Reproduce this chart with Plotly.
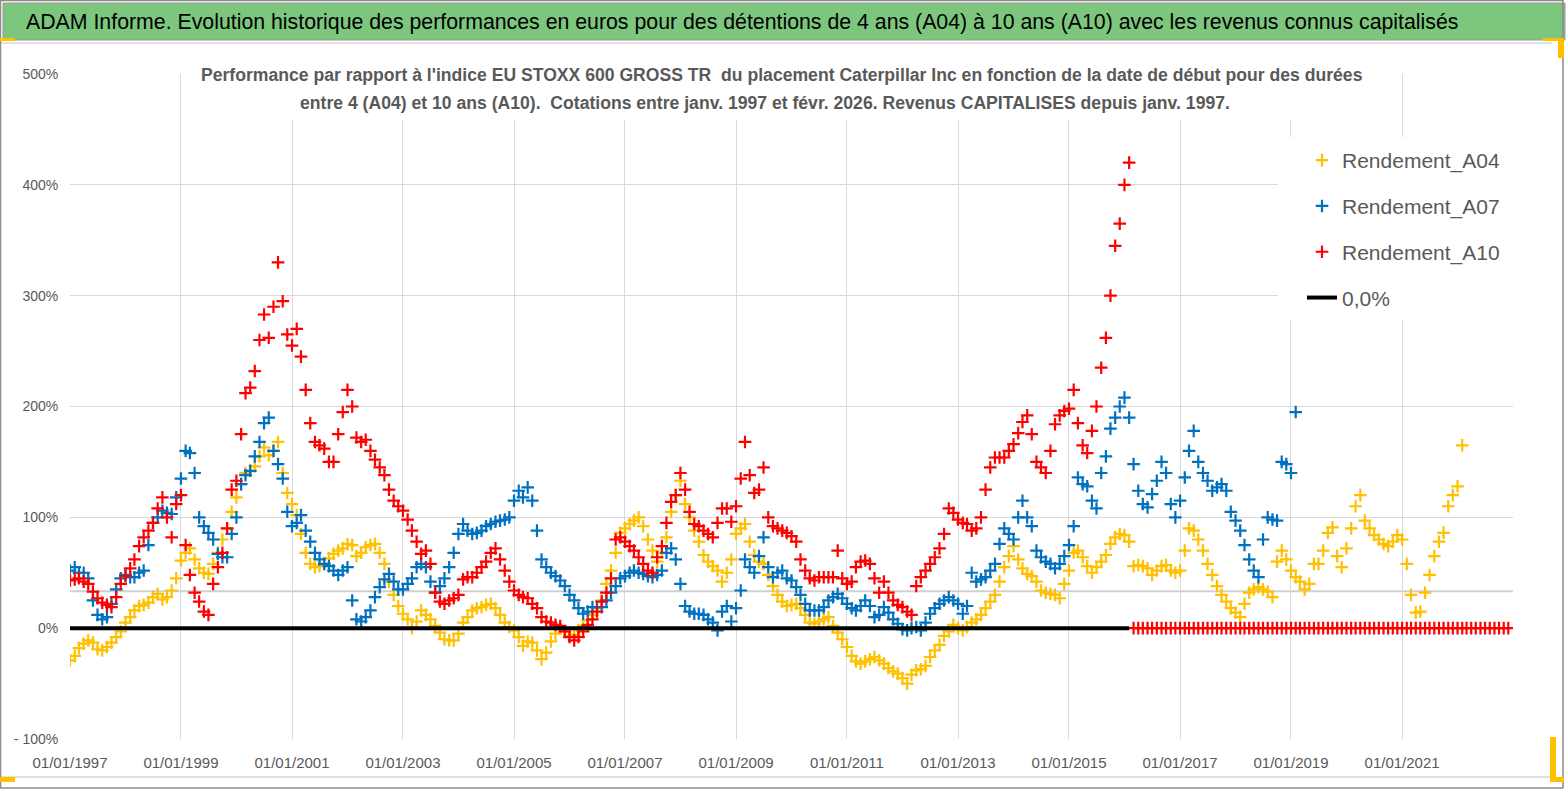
import plotly.graph_objects as go
import pandas as pd

# monthly start dates (performance vs EU STOXX 600 GROSS TR, in %)
START = "1997-01-01"

A04 = [
    -29, -25, -18, -14, -11, -13, -19, -20, -17, -13, -8, -3,      # 1997
    5, 10, 16, 20, 21, 23, 28, 31, 26, 28, 34, 45,                  # 1998
    61, 68, 72, 62, 54, 50, 49, 58, 68, 80, 90, 105,                # 1999
    118, 130, 140, 142, 146, 155, 163, 156, 160, 168, 140, 122,     # 2000
    112, 102, 85, 68, 58, 55, 56, 58, 63, 67, 70, 72,               # 2001
    76, 75, 65, 68, 73, 75, 76, 68, 58, 42, 30, 20,                 # 2002
    13, 8, 0, 6, 16, 12, 8, 2, -4, -10, -11, -11,                   # 2003
    -5, 5, 10, 16, 18, 19, 21, 22, 18, 12, 5, 1,                    # 2004
    -2, -8, -16, -12, -13, -20, -28, -22, -12, -5, 0, -3,           # 2005
    -7, -6, -2, 2, 7, 12, 18, 25, 40, 52, 68, 86,                   # 2006
    90, 94, 97, 100, 92, 80, 70, 60, 68, 82, 105, 120,              # 2007
    133, 112, 100, 88, 78, 66, 60, 56, 52, 42, 50, 62,              # 2008
    85, 90, 94, 78, 66, 60, 58, 48, 38, 30, 24, 20,                 # 2009
    21, 22, 18, 12, 5, 4, 6, 8, 10, 2, -4, -10,                     # 2010
    -17, -25, -30, -32, -30, -28, -26, -29, -32, -36, -39, -41,     # 2011
    -45, -50, -42, -38, -37, -34, -26, -20, -15, -7, -3, 3,         # 2012
    0, -2, 1, 5, 8, 12, 18, 24, 30, 42, 55, 65,                     # 2013
    74, 62, 54, 49, 47, 42, 34, 32, 31, 30, 27, 40,                 # 2014
    52, 68, 70, 64, 56, 50, 55, 60, 66, 76, 82, 85,                 # 2015
    84, 78, 56, 57, 56, 54, 48, 52, 56, 57, 52, 50,                 # 2016
    52, 70, 90, 88, 80, 70, 58, 48, 38, 30, 24, 18,                 # 2017
    14, 10, 22, 32, 35, 37, 35, 33, 28, 60, 70, 62,                 # 2018
    52, 46, 42, 35, 40, 58, 58, 70, 86, 91, 65, 55,                 # 2019
    72, 90, 110, 120, 97, 90, 84, 80, 76, 74, 78, 84,               # 2020
    80, 58, 30, 14, 15, 32, 48, 65, 78, 86, 110, 120,               # 2021
    128, 165,                                                       # 2022
]

A07 = [
    52, 55, 50, 50, 45, 25, 12, 8, 10, 22, 35, 45,                  # 1997
    48, 46, 46, 50, 52, 75, 95, 100, 106, 104, 103, 118,            # 1998
    135, 160, 158, 140, 100, 92, 86, 80, 67, 64, 64, 85,            # 1999
    100, 130, 138, 142, 155, 168, 185, 190, 160, 148, 135, 105,     # 2000
    92, 95, 102, 88, 78, 68, 62, 58, 56, 52, 48, 52,                # 2001
    55, 25, 8, 6, 10, 16, 28, 37, 44, 49, 42, 35,                   # 2002
    35, 40, 45, 55, 58, 55, 42, 32, 38, 45, 55, 68,                 # 2003
    85, 94, 88, 85, 86, 88, 92, 94, 96, 97, 98, 100,                # 2004
    115, 124, 118, 127, 115, 88, 62, 55, 50, 47, 43, 38,            # 2005
    30, 25, 18, 13, 15, 19, 19, 19, 25, 32, 38, 45,                 # 2006
    47, 50, 52, 50, 49, 47, 46, 48, 52, 68, 72, 62,                 # 2007
    40, 20, 15, 13, 13, 12, 8, 5, -2, 15, 20, 6,                    # 2008
    18, 34, 62, 55, 50, 65, 82, 55, 46, 50, 52, 45,                 # 2009
    43, 37, 30, 22, 16, 16, 16, 19, 25, 28, 31, 27,                 # 2010
    22, 18, 16, 20, 25, 20, 10, 12, 19, 14, 8, 4,                   # 2011
    -1, -2, 0, 1, -2, 5, 13, 18, 22, 25, 28, 25,                    # 2012
    22, 13, 20, 50, 42, 44, 46, 52, 58, 76, 90, 85,                 # 2013
    80, 100, 115, 100, 92, 70, 64, 60, 58, 54, 58, 65,              # 2014
    75, 92, 136, 130, 128, 115, 108, 140, 155, 180, 190, 200,       # 2015
    208, 190, 148, 124, 112, 109, 121, 133, 150, 140, 112, 100,     # 2016
    115, 136, 160, 178, 150, 140, 133, 124, 127, 130, 124, 105,     # 2017
    97, 88, 75, 62, 52, 46, 80, 100, 98, 97, 150, 148,              # 2018
    140, 195,                                                       # 2019
]

A10 = [
    43, 44, 45, 42, 40, 33, 27, 23, 21, 19, 28, 40,                 # 1997
    47, 54, 62, 74, 82, 88, 95, 108, 118, 100, 82, 112,             # 1998
    120, 75, 48, 32, 24, 15, 12, 40, 55, 68, 90, 125,               # 1999
    133, 175, 212, 217, 232, 260, 283, 262, 290, 330, 295, 265,     # 2000
    255, 270, 245, 215, 185, 168, 165, 162, 150, 150, 175, 195,     # 2001
    215, 200, 172, 168, 170, 160, 152, 145, 138, 125, 115, 110,     # 2002
    106, 98, 88, 78, 67, 70, 58, 32, 24, 22, 25, 27,                # 2003
    30, 44, 46, 46, 50, 55, 60, 68, 72, 62, 52, 42,                 # 2004
    34, 30, 28, 27, 22, 18, 10, 6, 5, 3, 2, -3,                     # 2005
    -8, -11, -8, -3, 3, 8, 15, 24, 32, 45, 80, 82,                  # 2006
    78, 74, 70, 64, 58, 52, 50, 64, 74, 95, 114, 120,               # 2007
    140, 125, 105, 94, 92, 88, 85, 82, 95, 108, 108, 96,            # 2008
    110, 135, 168, 138, 122, 125, 145, 100, 92, 90, 88, 86,         # 2009
    83, 78, 62, 52, 45, 43, 46, 46, 46, 46, 70, 45,                 # 2010
    40, 42, 55, 60, 61, 58, 45, 32, 42, 32, 25, 21,                 # 2011
    19, 15, 12, 38, 46, 52, 58, 64, 72, 85, 108, 104,               # 2012
    98, 95, 94, 88, 90, 100, 125, 145, 154, 154, 154, 160,          # 2013
    166, 176, 186, 192, 175, 150, 145, 140, 160, 184, 192, 196,     # 2014
    198, 215, 185, 165, 158, 178, 200, 235, 262, 300, 345, 365,     # 2015
    400, 420,                                                       # 2016 (Jan-Feb)
    0, 0, 0, 0, 0, 0, 0, 0, 0, 0,                                   # 2016 (Mar-Dec)
    0, 0, 0, 0, 0, 0, 0, 0, 0, 0, 0, 0,                             # 2017
    0, 0, 0, 0, 0, 0, 0, 0, 0, 0, 0, 0,                             # 2018
    0, 0, 0, 0, 0, 0, 0, 0, 0, 0, 0, 0,                             # 2019
    0, 0, 0, 0, 0, 0, 0, 0, 0, 0, 0, 0,                             # 2020
    0, 0, 0, 0, 0, 0, 0, 0, 0, 0, 0, 0,                             # 2021
    0, 0, 0, 0, 0, 0, 0, 0, 0, 0, 0, 0,                             # 2022
]
A10_LAST_REAL = "2016-02-01"   # after this the A10 values are all zero

ZERO_LEVEL = 0.0
GREY_LEVEL = 33.3              # light grey horizontal line in the plot

X_TICKS = ["1997-01-01", "1999-01-01", "2001-01-01", "2003-01-01", "2005-01-01",
           "2007-01-01", "2009-01-01", "2011-01-01", "2013-01-01", "2015-01-01",
           "2017-01-01", "2019-01-01", "2021-01-01"]
X_TICK_TEXT = ["01/01/" + d[:4] for d in X_TICKS]
Y_TICKS = [-100, 0, 100, 200, 300, 400, 500]
Y_TICK_TEXT = ["- 100%", "0%", "100%", "200%", "300%", "400%", "500%"]

TITLE = ("ADAM Informe. Evolution historique des performances en euros pour des détentions "
         "de 4 ans (A04) à 10 ans (A10) avec les revenus connus capitalisés")
SUB1 = ("Performance par rapport à l'indice EU STOXX 600 GROSS TR  du placement Caterpillar Inc "
        "en fonction de la date de début pour des durées")
SUB2 = ("entre 4 (A04) et 10 ans (A10).  Cotations entre janv. 1997 et févr. 2026. "
        "Revenus CAPITALISES depuis janv. 1997.")

NARROW = "Liberation Sans Narrow, Arial Narrow, Liberation Sans, sans-serif"
GREY_TXT = "#595959"

# page geometry (pixels)
W, H = 1567, 790
PL, PR, PT, PB = 70, 1513, 74, 739


def px_x(p):
    return (p - PL) / (PR - PL)


def px_y(p):
    return (PB - p) / (PB - PT)


def months(n):
    return pd.date_range(START, periods=n, freq="MS")


def cross(color):
    return dict(symbol="cross-thin", size=9, color=color, line=dict(width=2.2, color=color))


fig = go.Figure()
fig.add_trace(go.Scatter(x=months(len(A04)), y=A04, mode="markers", name="Rendement_A04",
                         marker=cross("#FFC000"), legendgroup="a04"))
fig.add_trace(go.Scatter(x=months(len(A07)), y=A07, mode="markers", name="Rendement_A07",
                         marker=cross("#0070C0"), legendgroup="a07"))
fig.add_trace(go.Scatter(x=months(len(A10)), y=A10, mode="markers", name="Rendement_A10",
                         marker=cross("#FF0000"), legendgroup="a10"))
fig.add_trace(go.Scatter(x=[START, A10_LAST_REAL], y=[ZERO_LEVEL, ZERO_LEVEL], mode="lines",
                         name="0,0%", line=dict(color="black", width=4), legendgroup="zero"))

shapes = [
    # grey reference line
    dict(type="line", xref="paper", yref="y", x0=0, x1=1, y0=GREY_LEVEL, y1=GREY_LEVEL,
         line=dict(color="#D0D0D0", width=2), layer="between"),
    # white box behind the subtitle
    dict(type="rect", xref="paper", yref="paper", x0=px_x(198), x1=px_x(1358),
         y0=px_y(120), y1=px_y(56), fillcolor="white", line=dict(width=0), layer="above"),
    # white box behind the legend
    dict(type="rect", xref="paper", yref="paper", x0=px_x(1278), x1=px_x(1513),
         y0=px_y(320), y1=px_y(137), fillcolor="white", line=dict(width=0), layer="above"),
    # green title bar
    dict(type="rect", xref="paper", yref="paper", x0=px_x(3), x1=px_x(1565),
         y0=px_y(40), y1=px_y(3), fillcolor="#7DC67D", line=dict(color="#9A9A9A", width=1)),
    # chart area lines
    dict(type="line", xref="paper", yref="paper", x0=px_x(0), x1=px_x(1552),
         y0=px_y(43), y1=px_y(43), line=dict(color="#D9D9D9", width=1.5)),
    dict(type="line", xref="paper", yref="paper", x0=px_x(0), x1=px_x(1552),
         y0=px_y(777), y1=px_y(777), line=dict(color="#D9D9D9", width=1.5)),
    # outer frame
    dict(type="rect", xref="paper", yref="paper", x0=px_x(0.5), x1=px_x(1563),
         y0=px_y(788), y1=px_y(0.5), line=dict(color="#8C8C8C", width=1.5)),
]
# yellow selection handles in the corners
for x0, x1, y0, y1 in [(0, 15, 38, 41), (0, 15, 777, 782), (1543, 1564, 38, 41),
                       (1558, 1564, 38, 58), (1550, 1556, 737, 782), (1550, 1564, 777, 782)]:
    shapes.append(dict(type="rect", xref="paper", yref="paper", x0=px_x(x0), x1=px_x(x1),
                       y0=px_y(y1), y1=px_y(y0), fillcolor="#FFC000", line=dict(width=0)))

annotations = [
    dict(text=TITLE, xref="paper", yref="paper", x=px_x(24), y=px_y(22), xanchor="left",
         yanchor="middle", showarrow=False, font=dict(family=NARROW, size=21.3, color="black")),
    dict(text="<b>" + SUB1 + "</b>", xref="paper", yref="paper", x=px_x(782), y=px_y(75),
         xanchor="center", yanchor="middle", showarrow=False,
         font=dict(family=NARROW, size=17.6, color=GREY_TXT)),
    dict(text="<b>" + SUB2 + "</b>", xref="paper", yref="paper", x=px_x(765), y=px_y(103),
         xanchor="center", yanchor="middle", showarrow=False,
         font=dict(family=NARROW, size=17.6, color=GREY_TXT)),
]

fig.update_layout(
    width=W, height=H,
    margin=dict(l=PL, r=W - PR, t=PT, b=H - PB),
    paper_bgcolor="white", plot_bgcolor="white",
    font=dict(family=NARROW, color=GREY_TXT),
    shapes=shapes, annotations=annotations,
    legend=dict(x=px_x(1302), y=px_y(140), xanchor="left", yanchor="top",
                bgcolor="rgba(0,0,0,0)", font=dict(family=NARROW, size=21, color=GREY_TXT),
                tracegroupgap=15.5, traceorder="grouped"),
    xaxis=dict(type="date", range=["1997-01-01", "2023-01-01"], tickvals=X_TICKS,
               ticktext=X_TICK_TEXT, showgrid=True, gridcolor="#D9D9D9", gridwidth=1.3,
               zeroline=False, showline=False, ticks="outside", ticklen=10,
               tickcolor="rgba(0,0,0,0)", tickfont=dict(size=15, color=GREY_TXT)),
    yaxis=dict(range=[-100, 500], tickvals=Y_TICKS, ticktext=Y_TICK_TEXT, showgrid=True,
               gridcolor="#D9D9D9", gridwidth=1.3, zeroline=False, showline=False,
               ticks="outside", ticklen=8, tickcolor="rgba(0,0,0,0)",
               tickfont=dict(size=14, color=GREY_TXT)),
)

# the page's default 8px body margin would shift the figure; remove it
fig.write_html("out.html", config={"displayModeBar": False},
               post_script="document.body.style.margin = '0';")
